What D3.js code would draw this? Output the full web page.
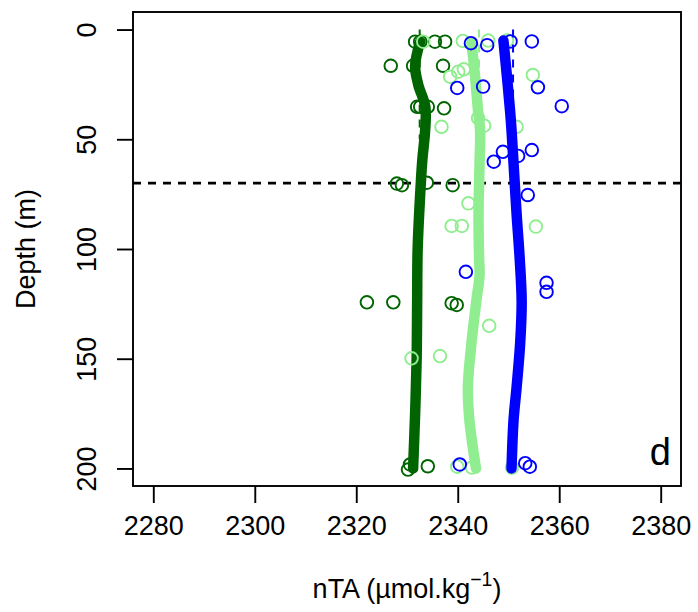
<!DOCTYPE html>
<html>
<head>
<meta charset="utf-8">
<script src="https://cdn.jsdelivr.net/npm/d3@7/dist/d3.min.js"></script>
<style>
  html, body { margin: 0; padding: 0; background: #fff; }
  svg { display: block; }
  text { font-family: "Liberation Sans", Arial, Helvetica, sans-serif; fill: #000; }
</style>
</head>
<body>
<svg id="chart" width="698" height="612"></svg>
<script>
// ---------------- data ----------------
const xTicks = [2280, 2300, 2320, 2340, 2360, 2380];
const yTicks = [0, 50, 100, 150, 200];
const mixedLayerDepth = 70;
const panelLabel = "d";

// observations: [nTA, depth]
const darkGreenPoints = [
  [2331.6, 5.5], [2332.6, 5.5], [2335.5, 5.5], [2337.5, 5.5],
  [2326.8, 16.5], [2331.2, 16.5], [2337.1, 16.5],
  [2332.0, 35.2], [2332.6, 35.2], [2334.1, 35.2], [2337.3, 35.9],
  [2328.0, 70.2], [2329.0, 70.9], [2333.9, 69.8], [2339.0, 70.9],
  [2322.1, 124.3], [2327.3, 124.3], [2338.8, 124.7], [2339.8, 125.5],
  [2330.6, 198.2], [2330.2, 200.5], [2334.1, 199.0]
];
const lightGreenPoints = [
  [2333.2, 5.5], [2341.0, 5.2], [2346.0, 5.0], [2349.7, 5.0],
  [2338.5, 21.5], [2340.1, 19.2], [2341.2, 18.1], [2354.8, 20.7],
  [2344.0, 40.3], [2336.8, 44.3], [2345.2, 43.8], [2351.6, 44.3],
  [2342.1, 79.2], [2338.8, 89.5], [2340.8, 89.5], [2355.4, 89.8],
  [2346.2, 135.0], [2336.5, 148.8], [2330.9, 149.8],
  [2339.9, 199.2], [2342.8, 199.6], [2350.7, 199.6]
];
const bluePoints = [
  [2342.6, 6.2], [2345.8, 7.1], [2350.4, 5.4], [2354.6, 5.4],
  [2339.9, 26.6], [2345.0, 26.0], [2355.8, 26.3],
  [2360.5, 34.9],
  [2347.1, 60.2], [2348.9, 55.7], [2351.9, 57.6], [2354.6, 54.9],
  [2353.8, 75.4],
  [2341.6, 110.4],
  [2357.5, 115.4], [2357.5, 119.5],
  [2340.4, 198.2], [2353.3, 197.6], [2354.2, 199.2]
];

// smoothed profiles: [nTA, depth]
const darkGreenProfile = [
  [2332.6, 5.5], [2331.6, 16.5], [2332.2, 25], [2333.6, 35], [2333.6, 45],
  [2333.0, 60], [2332.6, 75], [2332.1, 100], [2332.0, 125], [2331.9, 150],
  [2331.6, 175], [2331.2, 200]
];
const lightGreenProfile = [
  [2342.7, 6], [2343.4, 21], [2344.0, 37], [2344.4, 46], [2344.3, 61],
  [2344.1, 84], [2344.2, 104], [2344.3, 112], [2343.7, 123], [2342.7, 143],
  [2342.0, 163], [2342.3, 178], [2343.6, 200]
];
const blueProfile = [
  [2349.0, 5], [2349.7, 21.5], [2350.3, 36.7], [2350.6, 45.8], [2351.0, 61],
  [2351.6, 84], [2352.2, 104], [2352.6, 124], [2352.3, 143], [2351.6, 163],
  [2351.0, 178], [2350.6, 200]
];

// thin dashed mean profiles (mostly hidden under the smooth curves)
const darkGreenDashed = [[2332.5, 0], [2332.5, 50]];
const lightGreenDashed = [[2344.2, 0], [2344.2, 50]];
const blueDashed = [[2350.9, 0], [2350.9, 50]];

const series = [
  { color: "#006400", points: darkGreenPoints, profile: darkGreenProfile, dashed: darkGreenDashed },
  { color: "#90EE90", points: lightGreenPoints, profile: lightGreenProfile, dashed: lightGreenDashed },
  { color: "#0000FF", points: bluePoints, profile: blueProfile, dashed: blueDashed }
];

// ---------------- layout ----------------
const svg = d3.select("#chart");
const plot = { left: 133, right: 681, top: 12, bottom: 486 };

const x = d3.scaleLinear().domain([2276, 2384]).range([plot.left, plot.right]);
const y = d3.scaleLinear().domain([-8, 208]).range([plot.top, plot.bottom]);

const fontSize = 27;

svg.append("defs").append("clipPath").attr("id", "clip")
  .append("rect")
  .attr("x", plot.left).attr("y", plot.top)
  .attr("width", plot.right - plot.left).attr("height", plot.bottom - plot.top);

const g = svg.append("g").attr("clip-path", "url(#clip)");

// mixed layer line
g.append("line")
  .attr("x1", plot.left).attr("x2", plot.right)
  .attr("y1", y(mixedLayerDepth)).attr("y2", y(mixedLayerDepth))
  .attr("stroke", "#000").attr("stroke-width", 2.6)
  .attr("stroke-dasharray", "8,7");

const line = d3.line().x(d => x(d[0])).y(d => y(d[1])).curve(d3.curveCatmullRom.alpha(0.5));
const straight = d3.line().x(d => x(d[0])).y(d => y(d[1]));

series.forEach(s => {
  g.append("path")
    .attr("d", straight(s.dashed))
    .attr("fill", "none")
    .attr("stroke", s.color)
    .attr("stroke-width", 2)
    .attr("stroke-dasharray", "8,7");
  g.selectAll(null).data(s.points).enter().append("circle")
    .attr("cx", d => x(d[0])).attr("cy", d => y(d[1]))
    .attr("r", 6.3)
    .attr("fill", "none")
    .attr("stroke", s.color)
    .attr("stroke-width", 1.9);
  g.append("path")
    .attr("d", line(s.profile))
    .attr("fill", "none")
    .attr("stroke", s.color)
    .attr("stroke-width", 10.5)
    .attr("stroke-linecap", "round")
    .attr("stroke-linejoin", "round");
});

// box
svg.append("rect")
  .attr("x", plot.left).attr("y", plot.top)
  .attr("width", plot.right - plot.left).attr("height", plot.bottom - plot.top)
  .attr("fill", "none").attr("stroke", "#000").attr("stroke-width", 1.9);

// x axis
const xAxis = d3.axisBottom(x).tickValues(xTicks).tickSize(17).tickFormat(d3.format("d"));
const gx = svg.append("g").attr("transform", `translate(0,${plot.bottom})`).call(xAxis);
gx.select(".domain").remove();
gx.selectAll(".tick line").attr("stroke", "#000").attr("stroke-width", 1.9);
gx.selectAll(".tick text")
  .attr("font-size", fontSize)
  .attr("font-family", "Liberation Sans, Arial, sans-serif")
  .attr("dy", null)
  .attr("y", 535 - plot.bottom);

// y axis
const yAxis = d3.axisLeft(y).tickValues(yTicks).tickSize(16).tickFormat(d3.format("d"));
const gy = svg.append("g").attr("transform", `translate(${plot.left},0)`).call(yAxis);
gy.select(".domain").remove();
gy.selectAll(".tick line").attr("stroke", "#000").attr("stroke-width", 1.9);
gy.selectAll(".tick text")
  .attr("font-size", fontSize)
  .attr("font-family", "Liberation Sans, Arial, sans-serif")
  .attr("x", null).attr("dy", null)
  .attr("text-anchor", "middle")
  .attr("transform", `translate(${96 - plot.left},0) rotate(-90)`);

// axis titles
const xTitle = svg.append("text")
  .attr("x", (plot.left + plot.right) / 2).attr("y", 598)
  .attr("text-anchor", "middle")
  .attr("font-size", fontSize);
xTitle.append("tspan").text("nTA (µmol.kg");
xTitle.append("tspan").text("−1").attr("font-size", fontSize * 0.72).attr("dy", -12);
xTitle.append("tspan").text(")").attr("dy", 12);

svg.append("text")
  .attr("transform", `translate(35,${(plot.top + plot.bottom) / 2}) rotate(-90)`)
  .attr("text-anchor", "middle")
  .attr("font-size", fontSize)
  .text("Depth (m)");

// panel label
svg.append("text")
  .attr("x", 671).attr("y", 465)
  .attr("text-anchor", "end")
  .attr("font-size", 38)
  .text(panelLabel);
</script>
</body>
</html>
